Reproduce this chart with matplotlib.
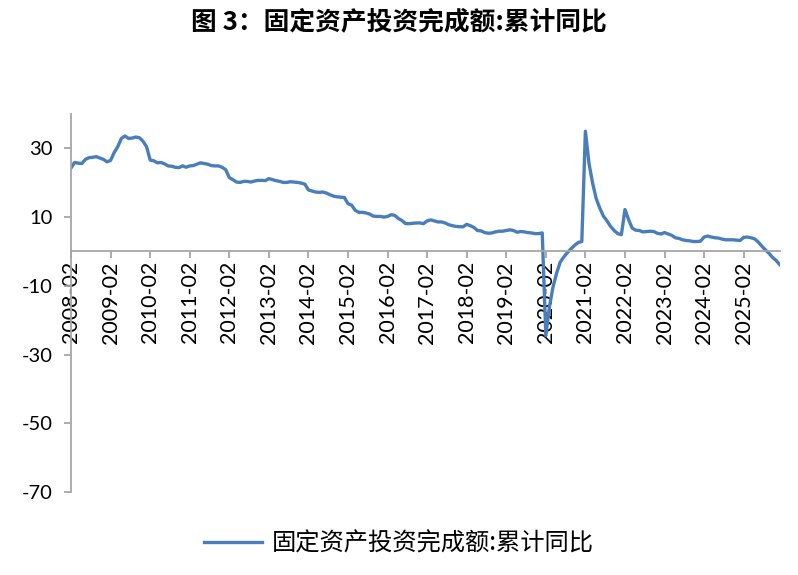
import numpy as np
import matplotlib
matplotlib.use("Agg")
from matplotlib import pyplot as plt

plt.rcParams['font.family'] = ['Noto Sans CJK SC', 'DejaVu Sans']

# monthly cumulative yoy, Feb..Dec for each year (no January release)
years = list(range(2008, 2026))
fai_2008 = [24.3, 25.9, 25.7, 25.6, 26.8, 27.3, 27.4, 27.6, 27.2, 26.8, 26.1]
fai_2009 = [26.5, 28.8, 30.5, 32.9, 33.6, 32.9, 33.0, 33.3, 33.1, 32.1, 30.5]
fai_2010 = [26.6, 26.4, 25.8, 25.9, 25.5, 24.9, 24.8, 24.5, 24.4, 24.9, 24.5]
fai_2011 = [24.9, 25.0, 25.4, 25.8, 25.6, 25.4, 25.0, 24.9, 24.9, 24.5, 23.8]
fai_2012 = [21.5, 20.9, 20.2, 20.1, 20.4, 20.4, 20.2, 20.5, 20.7, 20.7, 20.6]
fai_2013 = [21.2, 20.9, 20.6, 20.4, 20.1, 20.1, 20.3, 20.2, 20.1, 19.9, 19.6]
fai_2014 = [17.9, 17.6, 17.3, 17.2, 17.3, 17.0, 16.5, 16.1, 15.9, 15.8, 15.7]
fai_2015 = [13.9, 13.5, 12.0, 11.4, 11.4, 11.2, 10.9, 10.3, 10.2, 10.2, 10.0]
fai_2016 = [10.2, 10.7, 10.5, 9.6, 9.0, 8.1, 8.1, 8.2, 8.3, 8.3, 8.1]
fai_2017 = [8.9, 9.2, 8.9, 8.6, 8.6, 8.3, 7.8, 7.5, 7.3, 7.2, 7.2]
fai_2018 = [7.9, 7.5, 7.0, 6.1, 6.0, 5.5, 5.3, 5.4, 5.7, 5.9, 5.9]
fai_2019 = [6.1, 6.3, 6.1, 5.6, 5.8, 5.7, 5.5, 5.4, 5.2, 5.2, 5.4]
fai_2020 = [-24.5, -16.1, -10.3, -6.3, -3.1, -1.6, -0.3, 0.8, 1.8, 2.6, 2.9]
fai_2021 = [35.0, 25.6, 19.9, 15.4, 12.6, 10.3, 8.9, 7.3, 6.1, 5.2, 4.9]
fai_2022 = [12.2, 9.3, 6.8, 6.2, 6.1, 5.7, 5.8, 5.9, 5.8, 5.3, 5.1]
fai_2023 = [5.5, 5.1, 4.7, 4.0, 3.8, 3.4, 3.2, 3.1, 2.9, 2.9, 3.0]
fai_2024 = [4.2, 4.5, 4.2, 4.0, 3.9, 3.6, 3.4, 3.4, 3.4, 3.3, 3.2]
fai_2025 = [4.1, 4.2, 4.0, 3.7, 2.8, 1.6, 0.5, -0.5, -1.7, -2.6, -3.8]

series = (fai_2008 + fai_2009 + fai_2010 + fai_2011 + fai_2012 + fai_2013 +
          fai_2014 + fai_2015 + fai_2016 + fai_2017 + fai_2018 + fai_2019 +
          fai_2020 + fai_2021 + fai_2022 + fai_2023 + fai_2024 + fai_2025)
tick_labels = [f"{y}-02" for y in years]
y_ticks = [-70, -50, -30, -10, 10, 30]

label = "固定资产投资完成额:累计同比"
gray = "#a6a6a6"

fig = plt.figure(figsize=(7.98, 5.75), dpi=100)
ax = fig.add_axes([0.089, 0.1443, 0.888, 0.6574])

x = np.arange(len(series))
ax.plot(x, series, color="#4a7ebb", lw=2.4, label=label, solid_joinstyle="round")

ax.set_xlim(0, len(series) - 1)
ax.set_ylim(-70, 40)

ax.spines['top'].set_visible(False)
ax.spines['right'].set_visible(False)
ax.spines['bottom'].set_position(('data', 0))
ax.spines['bottom'].set_color(gray)
ax.spines['left'].set_color(gray)
ax.spines['bottom'].set_linewidth(1.3)
ax.spines['left'].set_linewidth(1.3)

ax.set_yticks(y_ticks)
ax.set_yticklabels([str(v) for v in y_ticks], family=['Lato', 'DejaVu Sans'], fontsize=14.5)
ax.set_xticks(x[::11])
ax.set_xticklabels(tick_labels, rotation=90, family=['Lato', 'DejaVu Sans'], fontsize=15.5)
ax.tick_params(axis='both', color=gray, width=1.3, length=5)
ax.tick_params(axis='y', pad=8)
ax.tick_params(axis='x', pad=2)

fig.text(0.5, 0.962, "图 3：固定资产投资完成额:累计同比", ha='center', va='center',
         fontsize=18.5, fontweight='bold')

fig.legend(loc='center', bbox_to_anchor=(0.5, 0.055), frameon=False, fontsize=17.5,
           handlelength=2.4, handletextpad=0.4)

fig.savefig("out.png", dpi=100)
